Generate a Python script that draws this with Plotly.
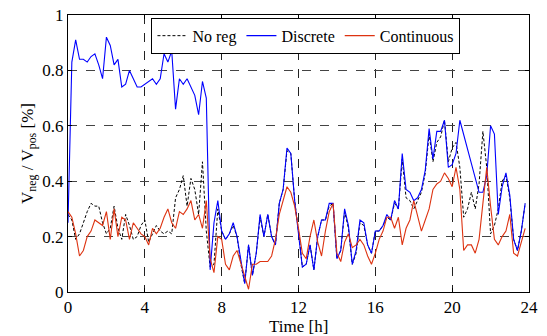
import plotly.graph_objects as go

# time grid [h]
time_h = [round(i * 0.2, 1) for i in range(120)]

no_reg = [
    0.28, 0.26, 0.19, 0.21, 0.25, 0.29, 0.32, 0.31, 0.31, 0.25,
    0.21, 0.23, 0.31, 0.23, 0.19, 0.28, 0.24, 0.19, 0.20, 0.24,
    0.26, 0.18, 0.21, 0.24, 0.22, 0.21, 0.22, 0.21, 0.34, 0.37,
    0.42, 0.31, 0.41, 0.37, 0.28, 0.47, 0.22, 0.09, 0.10, 0.30,
    0.22, 0.19, 0.21, 0.24, 0.20, 0.10, 0.03, 0.17, 0.06, 0.14,
    0.27, 0.20, 0.28, 0.20, 0.17, 0.32, 0.37, 0.51, 0.50, 0.33,
    0.22, 0.09, 0.10, 0.17, 0.08, 0.20, 0.26, 0.26, 0.31, 0.32,
    0.12, 0.15, 0.29, 0.23, 0.10, 0.14, 0.25, 0.24, 0.17, 0.14,
    0.22, 0.22, 0.24, 0.27, 0.26, 0.32, 0.30, 0.48, 0.34, 0.33,
    0.30, 0.33, 0.36, 0.43, 0.57, 0.47, 0.54, 0.56, 0.62, 0.47,
    0.52, 0.54, 0.45, 0.27, 0.30, 0.36, 0.30, 0.39, 0.58, 0.45,
    0.21, 0.24, 0.30, 0.40, 0.42, 0.34, 0.19, 0.15, 0.22, 0.32,
]

discrete = [
    0.25, 0.83, 0.91, 0.84, 0.84, 0.83, 0.85, 0.86, 0.82, 0.77,
    0.92, 0.89, 0.82, 0.84, 0.74, 0.75, 0.80, 0.77, 0.74, 0.74,
    0.75, 0.76, 0.77, 0.75, 0.77, 0.86, 0.83, 0.87, 0.66, 0.77,
    0.75, 0.77, 0.74, 0.71, 0.64, 0.76, 0.70, 0.08, 0.25, 0.33,
    0.22, 0.19, 0.21, 0.25, 0.20, 0.11, 0.03, 0.17, 0.06, 0.14,
    0.28, 0.20, 0.28, 0.20, 0.17, 0.32, 0.37, 0.52, 0.50, 0.33,
    0.22, 0.09, 0.10, 0.17, 0.08, 0.20, 0.26, 0.26, 0.32, 0.32,
    0.12, 0.15, 0.30, 0.24, 0.10, 0.15, 0.26, 0.25, 0.17, 0.14,
    0.22, 0.22, 0.24, 0.28, 0.26, 0.33, 0.30, 0.50, 0.37, 0.36,
    0.33, 0.34, 0.37, 0.44, 0.59, 0.48, 0.58, 0.58, 0.62, 0.45,
    0.46, 0.50, 0.62, 0.57, 0.52, 0.46, 0.42, 0.36, 0.36, 0.42,
    0.60, 0.57, 0.28, 0.38, 0.43, 0.35, 0.19, 0.15, 0.22, 0.32,
]

continuous = [
    0.29, 0.27, 0.21, 0.13, 0.15, 0.20, 0.22, 0.26, 0.25, 0.24,
    0.29, 0.19, 0.30, 0.20, 0.27, 0.26, 0.19, 0.25, 0.23, 0.21,
    0.20, 0.17, 0.23, 0.21, 0.23, 0.27, 0.30, 0.25, 0.23, 0.29,
    0.28, 0.30, 0.33, 0.26, 0.28, 0.23, 0.33, 0.12, 0.07, 0.20,
    0.19, 0.10, 0.08, 0.13, 0.15, 0.10, 0.05, 0.01, 0.10, 0.10,
    0.11, 0.11, 0.11, 0.13, 0.19, 0.28, 0.33, 0.38, 0.36, 0.31,
    0.23, 0.14, 0.12, 0.20, 0.26, 0.18, 0.13, 0.22, 0.29, 0.32,
    0.14, 0.11, 0.18, 0.21, 0.16, 0.17, 0.19, 0.17, 0.13, 0.10,
    0.14, 0.19, 0.22, 0.27, 0.27, 0.23, 0.27, 0.17, 0.23, 0.26,
    0.33, 0.28, 0.22, 0.26, 0.30, 0.37, 0.39, 0.40, 0.43, 0.41,
    0.38, 0.45, 0.37, 0.15, 0.17, 0.17, 0.14, 0.19, 0.33, 0.45,
    0.31, 0.19, 0.17, 0.20, 0.22, 0.28, 0.14, 0.13, 0.18, 0.23,
]

x_ticks = [0, 4, 8, 12, 16, 20, 24]
y_ticks = [0, 0.2, 0.4, 0.6, 0.8, 1]
y_tick_labels = ["0", "0.2", "0.4", "0.6", "0.8", "1"]

FONT = "Liberation Serif"

fig = go.Figure()
fig.add_trace(go.Scatter(x=time_h, y=no_reg, mode="lines", name="No reg",
                         line=dict(color="black", width=1, dash="3px,2px")))
fig.add_trace(go.Scatter(x=time_h, y=discrete, mode="lines", name="Discrete",
                         line=dict(color="#0000FF", width=1.1)))
fig.add_trace(go.Scatter(x=time_h, y=continuous, mode="lines", name="Continuous",
                         line=dict(color="#DD3311", width=1.1)))

fig.update_layout(
    template="none",
    width=547, height=336, autosize=False,
    margin=dict(l=68, r=18, t=15, b=44, pad=0),
    paper_bgcolor="white", plot_bgcolor="white",
    font=dict(family=FONT, size=17, color="black"),
    showlegend=True,
    legend=dict(orientation="h", x=0.181, y=0.99, xanchor="left", yanchor="top",
                bgcolor="white", bordercolor="black", borderwidth=1,
                font=dict(family=FONT, size=16), itemwidth=30,
                tracegroupgap=0),
    annotations=[dict(text="Time [h]", xref="paper", yref="paper", x=0.5, y=-0.124,
                      xanchor="center", yanchor="middle", showarrow=False,
                      font=dict(family=FONT, size=17, color="black"))],
)
fig.update_xaxes(
    range=[0, 24], tickvals=x_ticks, ticks="inside", ticklen=4, tickcolor="black",
    showline=True, linecolor="black", linewidth=1, mirror="ticks",
    showgrid=True, gridcolor="#222", griddash="dash", gridwidth=1,
    zeroline=False, automargin=False,
    tickfont=dict(family=FONT, size=17),
)
fig.update_yaxes(
    range=[0, 1], tickvals=y_ticks, ticktext=y_tick_labels, ticks="inside", ticklen=4,
    tickcolor="black",
    showline=True, linecolor="black", linewidth=1, mirror="ticks",
    showgrid=True, gridcolor="#444", griddash="dash", gridwidth=1,
    zeroline=False, automargin=False,
    title=dict(text="V<sub>neg</sub> / V<sub>pos</sub> [%]", standoff=4,
               font=dict(family=FONT, size=17)),
    tickfont=dict(family=FONT, size=17),
)

fig.write_html("out.html")
